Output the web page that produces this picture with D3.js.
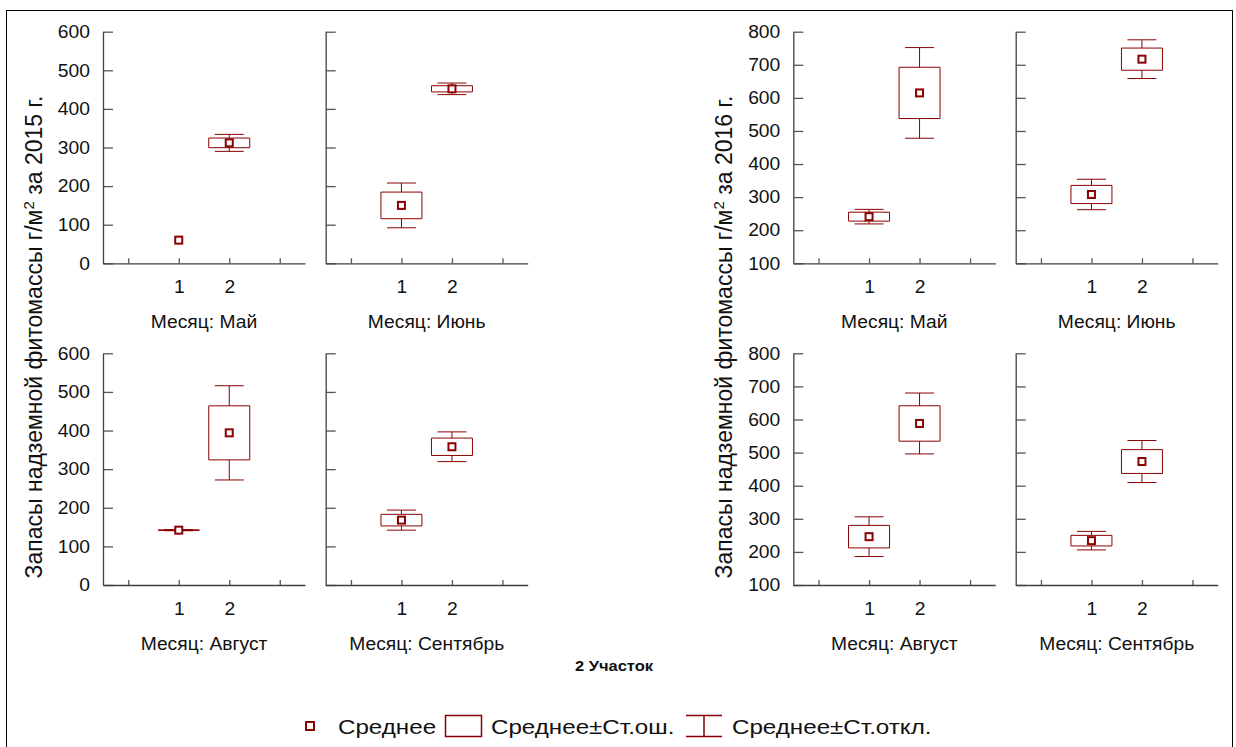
<!DOCTYPE html>
<html>
<head>
<meta charset="utf-8">
<script src="https://cdn.jsdelivr.net/npm/d3@7"></script>
<style>
  body { margin: 0; background: #fff; }
  text { font-family: "Liberation Sans", Arial, sans-serif; fill: #111; }
</style>
</head>
<body>
<svg id="chart" width="1236" height="747"></svg>
<script>
// Above-ground phytomass stock, g/m², by month and plot (site 1, site 2)
const months = ["Май", "Июнь", "Август", "Сентябрь"];
const sites = ["1", "2"];
const years = ["2015", "2016"];

// mean, standard error and standard deviation, [month][site]
const mean2015 = [[60, 312], [150, 452], [142, 394], [168, 358]];
const se2015   = [[null, 12.5], [34.5, 8], [0.8, 70], [15, 22.5]];
const sd2015   = [[null, 22], [58, 15], [1.5, 122], [26, 38.5]];

const mean2016 = [[241, 615], [308, 717], [246, 588], [234, 473]];
const se2016   = [[13.5, 77.5], [27.5, 33.5], [34, 53.5], [16, 36]];
const sd2016   = [[22, 137], [46, 58.5], [60, 92], [28, 63.5]];

const yTicks2015 = [0, 100, 200, 300, 400, 500, 600];
const yTicks2016 = [100, 200, 300, 400, 500, 600, 700, 800];

const yTitlePrefix = "Запасы надземной фитомассы г/м";
const yTitleSuffix = " за {y} г.";
const groupLabel = "2 Участок";
const legendLabels = ["Среднее", "Среднее±Ст.ош.", "Среднее±Ст.откл."];

// ---- layout ----
const svg = d3.select("#chart");
const RED = "#8b0000";
const panelW = 202;
const rowTop = [31.7, 353.3], rowBottom = [263.3, 585];
const groupAxisX = [[103, 325.7], [793.3, 1015.7]];
const titleX = [42, 732];
const boxW = 41, capW = 29, markSize = 7;

// widen glyphs horizontally by factor k (text is set slightly wide)
function stretch(sel, k) {
  sel.each(function () {
    const len = this.getComputedTextLength();
    if (len > 0) d3.select(this).attr("textLength", len * k).attr("lengthAdjust", "spacingAndGlyphs");
  });
}

svg.append("rect")
  .attr("x", 6.5).attr("y", 10.5)
  .attr("width", 1226).attr("height", 760)
  .attr("fill", "none").attr("stroke", "#000").attr("stroke-width", 1);

const datasets = [
  { year: years[0], mean: mean2015, se: se2015, sd: sd2015, ticks: yTicks2015 },
  { year: years[1], mean: mean2016, se: se2016, sd: sd2016, ticks: yTicks2016 }
];

datasets.forEach((ds, gi) => {
  months.forEach((month, mi) => {
    const row = Math.floor(mi / 2), col = mi % 2;
    const x0 = groupAxisX[gi][col];
    const x = d3.scaleLinear().domain([-0.5, 3.5]).range([x0, x0 + panelW]);
    const y = d3.scaleLinear()
      .domain(d3.extent(ds.ticks))
      .range([rowBottom[row], rowTop[row]]);

    const g = svg.append("g");

    // y axis, ticks pointing inward
    const yAxis = d3.axisLeft(y).tickValues(ds.ticks)
      .tickSize(-10).tickSizeOuter(0).tickPadding(13)
      .tickFormat(col === 0 ? d3.format("d") : () => "");
    const ya = g.append("g").attr("transform", `translate(${x0},0)`).call(yAxis);

    // x axis, ticks pointing up
    const xAxis = d3.axisBottom(x).tickValues([0, 1, 2, 3])
      .tickSize(-5).tickSizeOuter(0).tickPadding(17)
      .tickFormat(d => sites[d - 1] || "");
    const xa = g.append("g").attr("transform", `translate(0,${rowBottom[row]})`).call(xAxis);

    [ya, xa].forEach(a => {
      a.select(".domain").attr("stroke", "#404040").attr("stroke-width", 1.3);
      a.selectAll(".tick line").attr("stroke", "#555").attr("stroke-width", 1.3);
      a.selectAll(".tick text").attr("font-size", 18).attr("fill", "#111")
        .style("font-family", '"Liberation Sans", Arial, sans-serif');
      stretch(a.selectAll(".tick text"), 1.07);
    });

    // month caption
    const cap = g.append("text")
      .attr("x", x0 + panelW / 2).attr("y", rowBottom[row] + 65)
      .attr("text-anchor", "middle").attr("font-size", 17.5)
      .text("Месяц: " + month);
    stretch(cap, 1.1);

    // whiskers, boxes, means
    sites.forEach((s, si) => {
      const cx = x(si + 1);
      const m = ds.mean[mi][si], se = ds.se[mi][si], sd = ds.sd[mi][si];
      if (sd != null) {
        const wt = y(m + sd), wb = y(m - sd), bt = y(m + se), bb = y(m - se);
        const path = `M${cx},${wt}V${bt}M${cx},${bb}V${wb}` +
          `M${cx - capW / 2},${wt}H${cx + capW / 2}M${cx - capW / 2},${wb}H${cx + capW / 2}`;
        g.append("path").attr("d", path)
          .attr("fill", "none").attr("stroke", RED).attr("stroke-width", 1);
        g.append("path")
          .attr("d", `M${cx - boxW / 2},${bt}H${cx + boxW / 2}V${bb}H${cx - boxW / 2}Z`)
          .attr("fill", "none").attr("stroke", RED).attr("stroke-width", 1);
      }
      g.append("rect")
        .attr("x", cx - markSize / 2).attr("y", y(m) - markSize / 2)
        .attr("width", markSize).attr("height", markSize)
        .attr("fill", "#fff").attr("stroke", RED).attr("stroke-width", 2);
    });
  });

  // shared y-axis title
  const t = svg.append("text")
    .attr("transform", `translate(${titleX[gi]},337) rotate(-90)`)
    .attr("text-anchor", "middle").attr("font-size", 23);
  t.append("tspan").text(yTitlePrefix);
  t.append("tspan").attr("dy", "-0.55em").attr("font-size", 15).text("2");
  t.append("tspan").attr("dy", "0.37em").text(yTitleSuffix.replace("{y}", ds.year));
});

const gl = svg.append("text")
  .attr("x", 614).attr("y", 671)
  .attr("text-anchor", "middle").attr("font-size", 15).attr("font-weight", "bold")
  .text(groupLabel);
stretch(gl, 1.1);

// ---- legend ----
const lg = svg.append("g");
lg.append("rect").attr("x", 306).attr("y", 722).attr("width", 8).attr("height", 8)
  .attr("fill", "#fff").attr("stroke", RED).attr("stroke-width", 2);
lg.append("rect").attr("x", 445.5).attr("y", 715.5).attr("width", 36).attr("height", 21)
  .attr("fill", "none").attr("stroke", RED).attr("stroke-width", 1.5);
lg.append("path").attr("d", "M686,715.5H722M704,715.5V736.5M686,736.5H722")
  .attr("fill", "none").attr("stroke", RED).attr("stroke-width", 1.5);
const legendX = [338, 491, 732];
legendLabels.forEach((l, i) => {
  const lt = lg.append("text").attr("x", legendX[i]).attr("y", 734).attr("font-size", 21).text(l);
  stretch(lt, 1.15);
});
</script>
</body>
</html>
